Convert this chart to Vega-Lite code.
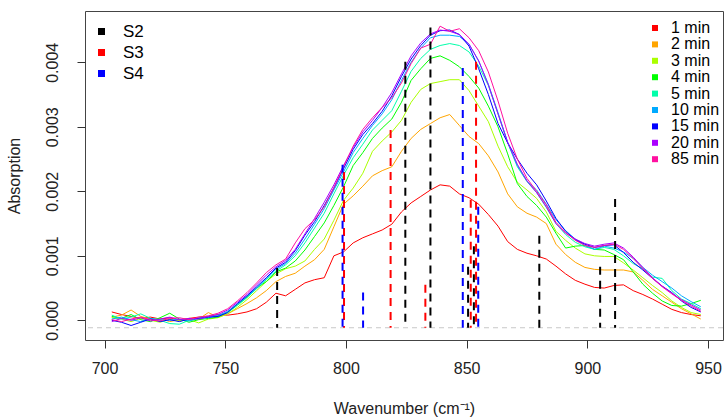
{
"$schema": "https://vega.github.io/schema/vega-lite/v6.json",
"width": 638, "height": 329,
"autosize": {"type": "none"},
"padding": {"left": 85, "top": 11, "right": 2, "bottom": 79},
"background": "white",
"datasets": {
"spectra": [
{"w":703,"t":"1 min","a":0.00013},{"w":707,"t":"1 min","a":0.00009},{"w":711,"t":"1 min","a":0.00006},{"w":715,"t":"1 min","a":0.00003},{"w":719,"t":"1 min","a":0.00005},{"w":723,"t":"1 min","a":0.00002},{"w":727,"t":"1 min","a":0.00004},{"w":731,"t":"1 min","a":0},{"w":735,"t":"1 min","a":0.00003},{"w":739,"t":"1 min","a":0.00005},{"w":743,"t":"1 min","a":0.00006},{"w":747,"t":"1 min","a":0.00009},{"w":751,"t":"1 min","a":0.00008},{"w":755,"t":"1 min","a":0.0001},{"w":759,"t":"1 min","a":0.00013},{"w":763,"t":"1 min","a":0.00018},{"w":767,"t":"1 min","a":0.00028},{"w":771,"t":"1 min","a":0.00042},{"w":775,"t":"1 min","a":0.00038},{"w":779,"t":"1 min","a":0.00048},{"w":783,"t":"1 min","a":0.00058},{"w":787,"t":"1 min","a":0.00063},{"w":791,"t":"1 min","a":0.00066},{"w":795,"t":"1 min","a":0.001},{"w":799,"t":"1 min","a":0.00106},{"w":803,"t":"1 min","a":0.0012},{"w":807,"t":"1 min","a":0.00128},{"w":811,"t":"1 min","a":0.00134},{"w":815,"t":"1 min","a":0.0014},{"w":819,"t":"1 min","a":0.00149},{"w":823,"t":"1 min","a":0.00168},{"w":827,"t":"1 min","a":0.00182},{"w":831,"t":"1 min","a":0.00192},{"w":835,"t":"1 min","a":0.00202},{"w":839,"t":"1 min","a":0.0021},{"w":843,"t":"1 min","a":0.00208},{"w":847,"t":"1 min","a":0.00196},{"w":851,"t":"1 min","a":0.0019},{"w":855,"t":"1 min","a":0.0018},{"w":859,"t":"1 min","a":0.00164},{"w":863,"t":"1 min","a":0.00146},{"w":867,"t":"1 min","a":0.00122},{"w":871,"t":"1 min","a":0.0011},{"w":875,"t":"1 min","a":0.00104},{"w":879,"t":"1 min","a":0.001},{"w":883,"t":"1 min","a":0.00095},{"w":887,"t":"1 min","a":0.00084},{"w":891,"t":"1 min","a":0.00072},{"w":895,"t":"1 min","a":0.00062},{"w":899,"t":"1 min","a":0.00056},{"w":903,"t":"1 min","a":0.00051},{"w":907,"t":"1 min","a":0.0005},{"w":911,"t":"1 min","a":0.00054},{"w":915,"t":"1 min","a":0.00055},{"w":919,"t":"1 min","a":0.00046},{"w":923,"t":"1 min","a":0.0004},{"w":927,"t":"1 min","a":0.00033},{"w":931,"t":"1 min","a":0.00025},{"w":935,"t":"1 min","a":0.00017},{"w":939,"t":"1 min","a":0.00012},{"w":943,"t":"1 min","a":0.00009},{"w":947,"t":"1 min","a":0.00007},
{"w":703,"t":"2 min","a":0.00005},{"w":707,"t":"2 min","a":0.00008},{"w":711,"t":"2 min","a":0.00016},{"w":715,"t":"2 min","a":0.00006},{"w":719,"t":"2 min","a":0.00002},{"w":723,"t":"2 min","a":0.00003},{"w":727,"t":"2 min","a":-0.00002},{"w":731,"t":"2 min","a":0.00001},{"w":735,"t":"2 min","a":0.00003},{"w":739,"t":"2 min","a":0.00002},{"w":743,"t":"2 min","a":0.00012},{"w":747,"t":"2 min","a":0.00005},{"w":751,"t":"2 min","a":0.0001},{"w":755,"t":"2 min","a":0.00018},{"w":759,"t":"2 min","a":0.00026},{"w":763,"t":"2 min","a":0.00035},{"w":767,"t":"2 min","a":0.00046},{"w":771,"t":"2 min","a":0.0006},{"w":775,"t":"2 min","a":0.00068},{"w":779,"t":"2 min","a":0.00073},{"w":783,"t":"2 min","a":0.00084},{"w":787,"t":"2 min","a":0.00094},{"w":791,"t":"2 min","a":0.0011},{"w":795,"t":"2 min","a":0.00145},{"w":799,"t":"2 min","a":0.0018},{"w":803,"t":"2 min","a":0.00193},{"w":807,"t":"2 min","a":0.00208},{"w":811,"t":"2 min","a":0.00224},{"w":815,"t":"2 min","a":0.00232},{"w":819,"t":"2 min","a":0.00238},{"w":823,"t":"2 min","a":0.00262},{"w":827,"t":"2 min","a":0.00282},{"w":831,"t":"2 min","a":0.00296},{"w":835,"t":"2 min","a":0.00305},{"w":839,"t":"2 min","a":0.00314},{"w":843,"t":"2 min","a":0.00319},{"w":847,"t":"2 min","a":0.00302},{"w":851,"t":"2 min","a":0.00285},{"w":855,"t":"2 min","a":0.00274},{"w":859,"t":"2 min","a":0.00255},{"w":863,"t":"2 min","a":0.0023},{"w":867,"t":"2 min","a":0.00196},{"w":871,"t":"2 min","a":0.00176},{"w":875,"t":"2 min","a":0.00166},{"w":879,"t":"2 min","a":0.0016},{"w":883,"t":"2 min","a":0.0015},{"w":887,"t":"2 min","a":0.00118},{"w":891,"t":"2 min","a":0.00102},{"w":895,"t":"2 min","a":0.0009},{"w":899,"t":"2 min","a":0.00082},{"w":903,"t":"2 min","a":0.00079},{"w":907,"t":"2 min","a":0.00078},{"w":911,"t":"2 min","a":0.00078},{"w":915,"t":"2 min","a":0.00078},{"w":919,"t":"2 min","a":0.00075},{"w":923,"t":"2 min","a":0.00062},{"w":927,"t":"2 min","a":0.00048},{"w":931,"t":"2 min","a":0.00038},{"w":935,"t":"2 min","a":0.00028},{"w":939,"t":"2 min","a":0.00018},{"w":943,"t":"2 min","a":0.0001},{"w":947,"t":"2 min","a":0.00002},
{"w":703,"t":"3 min","a":0.00004},{"w":707,"t":"3 min","a":0.00002},{"w":711,"t":"3 min","a":-0.00002},{"w":715,"t":"3 min","a":0.00003},{"w":719,"t":"3 min","a":0},{"w":723,"t":"3 min","a":-0.00003},{"w":727,"t":"3 min","a":0.00002},{"w":731,"t":"3 min","a":-0.00001},{"w":735,"t":"3 min","a":0.00001},{"w":739,"t":"3 min","a":-0.00004},{"w":743,"t":"3 min","a":0.00002},{"w":747,"t":"3 min","a":0.00004},{"w":751,"t":"3 min","a":0.0001},{"w":755,"t":"3 min","a":0.0002},{"w":759,"t":"3 min","a":0.00032},{"w":763,"t":"3 min","a":0.00046},{"w":767,"t":"3 min","a":0.0006},{"w":771,"t":"3 min","a":0.00072},{"w":775,"t":"3 min","a":0.0008},{"w":779,"t":"3 min","a":0.00084},{"w":783,"t":"3 min","a":0.00092},{"w":787,"t":"3 min","a":0.0011},{"w":791,"t":"3 min","a":0.00126},{"w":795,"t":"3 min","a":0.00155},{"w":799,"t":"3 min","a":0.00186},{"w":803,"t":"3 min","a":0.00205},{"w":807,"t":"3 min","a":0.00228},{"w":811,"t":"3 min","a":0.00262},{"w":815,"t":"3 min","a":0.00278},{"w":819,"t":"3 min","a":0.00292},{"w":823,"t":"3 min","a":0.0031},{"w":827,"t":"3 min","a":0.00338},{"w":831,"t":"3 min","a":0.00358},{"w":835,"t":"3 min","a":0.00367},{"w":839,"t":"3 min","a":0.0037},{"w":843,"t":"3 min","a":0.00373},{"w":847,"t":"3 min","a":0.00373},{"w":851,"t":"3 min","a":0.00356},{"w":855,"t":"3 min","a":0.00332},{"w":859,"t":"3 min","a":0.00308},{"w":863,"t":"3 min","a":0.0027},{"w":867,"t":"3 min","a":0.00238},{"w":871,"t":"3 min","a":0.00214},{"w":875,"t":"3 min","a":0.00202},{"w":879,"t":"3 min","a":0.00189},{"w":883,"t":"3 min","a":0.00168},{"w":887,"t":"3 min","a":0.00138},{"w":891,"t":"3 min","a":0.00124},{"w":895,"t":"3 min","a":0.00112},{"w":899,"t":"3 min","a":0.00103},{"w":903,"t":"3 min","a":0.001},{"w":907,"t":"3 min","a":0.00099},{"w":911,"t":"3 min","a":0.00099},{"w":915,"t":"3 min","a":0.00089},{"w":919,"t":"3 min","a":0.00078},{"w":923,"t":"3 min","a":0.00066},{"w":927,"t":"3 min","a":0.00054},{"w":931,"t":"3 min","a":0.00043},{"w":935,"t":"3 min","a":0.0003},{"w":939,"t":"3 min","a":0.0002},{"w":943,"t":"3 min","a":0.00012},{"w":947,"t":"3 min","a":0.00009},
{"w":703,"t":"4 min","a":0.00006},{"w":707,"t":"4 min","a":0.00003},{"w":711,"t":"4 min","a":0.00009},{"w":715,"t":"4 min","a":0.00001},{"w":719,"t":"4 min","a":-0.00002},{"w":723,"t":"4 min","a":0.00004},{"w":727,"t":"4 min","a":0.00011},{"w":731,"t":"4 min","a":0.00002},{"w":735,"t":"4 min","a":-0.00003},{"w":739,"t":"4 min","a":0.00001},{"w":743,"t":"4 min","a":0.00003},{"w":747,"t":"4 min","a":0.00005},{"w":751,"t":"4 min","a":0.00013},{"w":755,"t":"4 min","a":0.00024},{"w":759,"t":"4 min","a":0.00036},{"w":763,"t":"4 min","a":0.0005},{"w":767,"t":"4 min","a":0.0006},{"w":771,"t":"4 min","a":0.00075},{"w":775,"t":"4 min","a":0.00081},{"w":779,"t":"4 min","a":0.00092},{"w":783,"t":"4 min","a":0.00109},{"w":787,"t":"4 min","a":0.0013},{"w":791,"t":"4 min","a":0.00151},{"w":795,"t":"4 min","a":0.00178},{"w":799,"t":"4 min","a":0.00207},{"w":803,"t":"4 min","a":0.0024},{"w":807,"t":"4 min","a":0.0026},{"w":811,"t":"4 min","a":0.00282},{"w":815,"t":"4 min","a":0.00298},{"w":819,"t":"4 min","a":0.00312},{"w":823,"t":"4 min","a":0.00338},{"w":827,"t":"4 min","a":0.00372},{"w":831,"t":"4 min","a":0.0039},{"w":835,"t":"4 min","a":0.00406},{"w":839,"t":"4 min","a":0.0041},{"w":843,"t":"4 min","a":0.00403},{"w":847,"t":"4 min","a":0.00393},{"w":851,"t":"4 min","a":0.00378},{"w":855,"t":"4 min","a":0.0036},{"w":859,"t":"4 min","a":0.00332},{"w":863,"t":"4 min","a":0.003},{"w":867,"t":"4 min","a":0.00258},{"w":871,"t":"4 min","a":0.00212},{"w":875,"t":"4 min","a":0.00192},{"w":879,"t":"4 min","a":0.00178},{"w":883,"t":"4 min","a":0.0016},{"w":887,"t":"4 min","a":0.00135},{"w":891,"t":"4 min","a":0.00112},{"w":895,"t":"4 min","a":0.00115},{"w":899,"t":"4 min","a":0.00116},{"w":903,"t":"4 min","a":0.0011},{"w":907,"t":"4 min","a":0.00109},{"w":911,"t":"4 min","a":0.00102},{"w":915,"t":"4 min","a":0.00094},{"w":919,"t":"4 min","a":0.00075},{"w":923,"t":"4 min","a":0.00056},{"w":927,"t":"4 min","a":0.00042},{"w":931,"t":"4 min","a":0.0003},{"w":935,"t":"4 min","a":0.00023},{"w":939,"t":"4 min","a":0.00022},{"w":943,"t":"4 min","a":0.00026},{"w":947,"t":"4 min","a":0.00031},
{"w":703,"t":"5 min","a":0.00008},{"w":707,"t":"5 min","a":0.00002},{"w":711,"t":"5 min","a":0.00005},{"w":715,"t":"5 min","a":0.0001},{"w":719,"t":"5 min","a":0.00003},{"w":723,"t":"5 min","a":0},{"w":727,"t":"5 min","a":-0.00005},{"w":731,"t":"5 min","a":-0.00006},{"w":735,"t":"5 min","a":0},{"w":739,"t":"5 min","a":0.00004},{"w":743,"t":"5 min","a":0.00006},{"w":747,"t":"5 min","a":0.00008},{"w":751,"t":"5 min","a":0.00012},{"w":755,"t":"5 min","a":0.00023},{"w":759,"t":"5 min","a":0.00035},{"w":763,"t":"5 min","a":0.00049},{"w":767,"t":"5 min","a":0.00063},{"w":771,"t":"5 min","a":0.00076},{"w":775,"t":"5 min","a":0.00086},{"w":779,"t":"5 min","a":0.001},{"w":783,"t":"5 min","a":0.0012},{"w":787,"t":"5 min","a":0.00143},{"w":791,"t":"5 min","a":0.00166},{"w":795,"t":"5 min","a":0.00196},{"w":799,"t":"5 min","a":0.00225},{"w":803,"t":"5 min","a":0.00252},{"w":807,"t":"5 min","a":0.00273},{"w":811,"t":"5 min","a":0.00295},{"w":815,"t":"5 min","a":0.0031},{"w":819,"t":"5 min","a":0.00325},{"w":823,"t":"5 min","a":0.00355},{"w":827,"t":"5 min","a":0.00386},{"w":831,"t":"5 min","a":0.00406},{"w":835,"t":"5 min","a":0.0042},{"w":839,"t":"5 min","a":0.00426},{"w":843,"t":"5 min","a":0.00429},{"w":847,"t":"5 min","a":0.00426},{"w":851,"t":"5 min","a":0.00416},{"w":855,"t":"5 min","a":0.00394},{"w":859,"t":"5 min","a":0.00364},{"w":863,"t":"5 min","a":0.0032},{"w":867,"t":"5 min","a":0.00275},{"w":871,"t":"5 min","a":0.00238},{"w":875,"t":"5 min","a":0.00215},{"w":879,"t":"5 min","a":0.00198},{"w":883,"t":"5 min","a":0.00175},{"w":887,"t":"5 min","a":0.0015},{"w":891,"t":"5 min","a":0.00133},{"w":895,"t":"5 min","a":0.00121},{"w":899,"t":"5 min","a":0.00114},{"w":903,"t":"5 min","a":0.0011},{"w":907,"t":"5 min","a":0.00113},{"w":911,"t":"5 min","a":0.0011},{"w":915,"t":"5 min","a":0.001},{"w":919,"t":"5 min","a":0.00088},{"w":923,"t":"5 min","a":0.0008},{"w":927,"t":"5 min","a":0.00067},{"w":931,"t":"5 min","a":0.00065},{"w":935,"t":"5 min","a":0.00046},{"w":939,"t":"5 min","a":0.00033},{"w":943,"t":"5 min","a":0.00026},{"w":947,"t":"5 min","a":0.00018},
{"w":703,"t":"10 min","a":0.00002},{"w":707,"t":"10 min","a":0.00005},{"w":711,"t":"10 min","a":0.00001},{"w":715,"t":"10 min","a":-0.00002},{"w":719,"t":"10 min","a":0.00003},{"w":723,"t":"10 min","a":0.00001},{"w":727,"t":"10 min","a":0},{"w":731,"t":"10 min","a":0.00002},{"w":735,"t":"10 min","a":-0.00001},{"w":739,"t":"10 min","a":0.00003},{"w":743,"t":"10 min","a":0.00004},{"w":747,"t":"10 min","a":0.00007},{"w":751,"t":"10 min","a":0.00014},{"w":755,"t":"10 min","a":0.00025},{"w":759,"t":"10 min","a":0.00037},{"w":763,"t":"10 min","a":0.0005},{"w":767,"t":"10 min","a":0.00065},{"w":771,"t":"10 min","a":0.00079},{"w":775,"t":"10 min","a":0.00088},{"w":779,"t":"10 min","a":0.00104},{"w":783,"t":"10 min","a":0.00126},{"w":787,"t":"10 min","a":0.00149},{"w":791,"t":"10 min","a":0.00173},{"w":795,"t":"10 min","a":0.00202},{"w":799,"t":"10 min","a":0.0023},{"w":803,"t":"10 min","a":0.0026},{"w":807,"t":"10 min","a":0.00282},{"w":811,"t":"10 min","a":0.00302},{"w":815,"t":"10 min","a":0.0032},{"w":819,"t":"10 min","a":0.00342},{"w":823,"t":"10 min","a":0.00372},{"w":827,"t":"10 min","a":0.004},{"w":831,"t":"10 min","a":0.00422},{"w":835,"t":"10 min","a":0.00438},{"w":839,"t":"10 min","a":0.00442},{"w":843,"t":"10 min","a":0.00442},{"w":847,"t":"10 min","a":0.0044},{"w":851,"t":"10 min","a":0.00428},{"w":855,"t":"10 min","a":0.00402},{"w":859,"t":"10 min","a":0.00366},{"w":863,"t":"10 min","a":0.00322},{"w":867,"t":"10 min","a":0.00276},{"w":871,"t":"10 min","a":0.0024},{"w":875,"t":"10 min","a":0.00216},{"w":879,"t":"10 min","a":0.00202},{"w":883,"t":"10 min","a":0.0018},{"w":887,"t":"10 min","a":0.00156},{"w":891,"t":"10 min","a":0.00139},{"w":895,"t":"10 min","a":0.00126},{"w":899,"t":"10 min","a":0.00116},{"w":903,"t":"10 min","a":0.0011},{"w":907,"t":"10 min","a":0.00115},{"w":911,"t":"10 min","a":0.00112},{"w":915,"t":"10 min","a":0.00106},{"w":919,"t":"10 min","a":0.00096},{"w":923,"t":"10 min","a":0.00082},{"w":927,"t":"10 min","a":0.0007},{"w":931,"t":"10 min","a":0.0006},{"w":935,"t":"10 min","a":0.0005},{"w":939,"t":"10 min","a":0.00038},{"w":943,"t":"10 min","a":0.00029},{"w":947,"t":"10 min","a":0.00021},
{"w":703,"t":"15 min","a":0},{"w":707,"t":"15 min","a":-0.00003},{"w":711,"t":"15 min","a":-0.00008},{"w":715,"t":"15 min","a":-0.00003},{"w":719,"t":"15 min","a":0.00002},{"w":723,"t":"15 min","a":-0.00002},{"w":727,"t":"15 min","a":0.00001},{"w":731,"t":"15 min","a":-0.00002},{"w":735,"t":"15 min","a":0.00002},{"w":739,"t":"15 min","a":0.00003},{"w":743,"t":"15 min","a":0.00005},{"w":747,"t":"15 min","a":0.00006},{"w":751,"t":"15 min","a":0.00012},{"w":755,"t":"15 min","a":0.00026},{"w":759,"t":"15 min","a":0.00038},{"w":763,"t":"15 min","a":0.00052},{"w":767,"t":"15 min","a":0.00066},{"w":771,"t":"15 min","a":0.00081},{"w":775,"t":"15 min","a":0.0009},{"w":779,"t":"15 min","a":0.00108},{"w":783,"t":"15 min","a":0.00132},{"w":787,"t":"15 min","a":0.00153},{"w":791,"t":"15 min","a":0.00178},{"w":795,"t":"15 min","a":0.00205},{"w":799,"t":"15 min","a":0.00235},{"w":803,"t":"15 min","a":0.00265},{"w":807,"t":"15 min","a":0.00288},{"w":811,"t":"15 min","a":0.00305},{"w":815,"t":"15 min","a":0.00324},{"w":819,"t":"15 min","a":0.00348},{"w":823,"t":"15 min","a":0.00378},{"w":827,"t":"15 min","a":0.00405},{"w":831,"t":"15 min","a":0.00426},{"w":835,"t":"15 min","a":0.00442},{"w":839,"t":"15 min","a":0.00449},{"w":843,"t":"15 min","a":0.0045},{"w":847,"t":"15 min","a":0.00443},{"w":851,"t":"15 min","a":0.00425},{"w":855,"t":"15 min","a":0.0039},{"w":859,"t":"15 min","a":0.0035},{"w":863,"t":"15 min","a":0.00305},{"w":867,"t":"15 min","a":0.00275},{"w":871,"t":"15 min","a":0.0025},{"w":875,"t":"15 min","a":0.00228},{"w":879,"t":"15 min","a":0.0021},{"w":883,"t":"15 min","a":0.00185},{"w":887,"t":"15 min","a":0.00158},{"w":891,"t":"15 min","a":0.00138},{"w":895,"t":"15 min","a":0.00125},{"w":899,"t":"15 min","a":0.00118},{"w":903,"t":"15 min","a":0.00113},{"w":907,"t":"15 min","a":0.00116},{"w":911,"t":"15 min","a":0.00117},{"w":915,"t":"15 min","a":0.00105},{"w":919,"t":"15 min","a":0.0009},{"w":923,"t":"15 min","a":0.00078},{"w":927,"t":"15 min","a":0.00065},{"w":931,"t":"15 min","a":0.00053},{"w":935,"t":"15 min","a":0.00043},{"w":939,"t":"15 min","a":0.0003},{"w":943,"t":"15 min","a":0.0002},{"w":947,"t":"15 min","a":0.00013},
{"w":703,"t":"20 min","a":-0.00002},{"w":707,"t":"20 min","a":0.00003},{"w":711,"t":"20 min","a":0},{"w":715,"t":"20 min","a":0.00004},{"w":719,"t":"20 min","a":-0.00001},{"w":723,"t":"20 min","a":0.00002},{"w":727,"t":"20 min","a":0.00005},{"w":731,"t":"20 min","a":0.00001},{"w":735,"t":"20 min","a":0.00003},{"w":739,"t":"20 min","a":0.00002},{"w":743,"t":"20 min","a":0.00006},{"w":747,"t":"20 min","a":0.00009},{"w":751,"t":"20 min","a":0.00016},{"w":755,"t":"20 min","a":0.00028},{"w":759,"t":"20 min","a":0.0004},{"w":763,"t":"20 min","a":0.00055},{"w":767,"t":"20 min","a":0.0007},{"w":771,"t":"20 min","a":0.00083},{"w":775,"t":"20 min","a":0.00093},{"w":779,"t":"20 min","a":0.0011},{"w":783,"t":"20 min","a":0.00134},{"w":787,"t":"20 min","a":0.00158},{"w":791,"t":"20 min","a":0.00183},{"w":795,"t":"20 min","a":0.0021},{"w":799,"t":"20 min","a":0.0024},{"w":803,"t":"20 min","a":0.00268},{"w":807,"t":"20 min","a":0.00292},{"w":811,"t":"20 min","a":0.0031},{"w":815,"t":"20 min","a":0.0033},{"w":819,"t":"20 min","a":0.00353},{"w":823,"t":"20 min","a":0.00382},{"w":827,"t":"20 min","a":0.0041},{"w":831,"t":"20 min","a":0.0043},{"w":835,"t":"20 min","a":0.00444},{"w":839,"t":"20 min","a":0.0045},{"w":843,"t":"20 min","a":0.00448},{"w":847,"t":"20 min","a":0.00443},{"w":851,"t":"20 min","a":0.00428},{"w":855,"t":"20 min","a":0.00402},{"w":859,"t":"20 min","a":0.00365},{"w":863,"t":"20 min","a":0.0032},{"w":867,"t":"20 min","a":0.00276},{"w":871,"t":"20 min","a":0.00242},{"w":875,"t":"20 min","a":0.00216},{"w":879,"t":"20 min","a":0.00198},{"w":883,"t":"20 min","a":0.00176},{"w":887,"t":"20 min","a":0.0015},{"w":891,"t":"20 min","a":0.00135},{"w":895,"t":"20 min","a":0.00126},{"w":899,"t":"20 min","a":0.00119},{"w":903,"t":"20 min","a":0.00115},{"w":907,"t":"20 min","a":0.00118},{"w":911,"t":"20 min","a":0.0012},{"w":915,"t":"20 min","a":0.00112},{"w":919,"t":"20 min","a":0.00098},{"w":923,"t":"20 min","a":0.00082},{"w":927,"t":"20 min","a":0.00066},{"w":931,"t":"20 min","a":0.00053},{"w":935,"t":"20 min","a":0.00042},{"w":939,"t":"20 min","a":0.00032},{"w":943,"t":"20 min","a":0.00024},{"w":947,"t":"20 min","a":0.00016},
{"w":703,"t":"85 min","a":0.00001},{"w":707,"t":"85 min","a":-0.00002},{"w":711,"t":"85 min","a":0.00002},{"w":715,"t":"85 min","a":0.00005},{"w":719,"t":"85 min","a":0.00001},{"w":723,"t":"85 min","a":-0.00001},{"w":727,"t":"85 min","a":0.00003},{"w":731,"t":"85 min","a":0.00004},{"w":735,"t":"85 min","a":0.00001},{"w":739,"t":"85 min","a":0.00005},{"w":743,"t":"85 min","a":0.00007},{"w":747,"t":"85 min","a":0.00011},{"w":751,"t":"85 min","a":0.00018},{"w":755,"t":"85 min","a":0.0003},{"w":759,"t":"85 min","a":0.00043},{"w":763,"t":"85 min","a":0.00058},{"w":767,"t":"85 min","a":0.00074},{"w":771,"t":"85 min","a":0.00086},{"w":775,"t":"85 min","a":0.00095},{"w":779,"t":"85 min","a":0.0012},{"w":783,"t":"85 min","a":0.00142},{"w":787,"t":"85 min","a":0.00156},{"w":791,"t":"85 min","a":0.00176},{"w":795,"t":"85 min","a":0.00206},{"w":799,"t":"85 min","a":0.00238},{"w":803,"t":"85 min","a":0.0027},{"w":807,"t":"85 min","a":0.00296},{"w":811,"t":"85 min","a":0.00314},{"w":815,"t":"85 min","a":0.0033},{"w":819,"t":"85 min","a":0.00345},{"w":823,"t":"85 min","a":0.00368},{"w":827,"t":"85 min","a":0.00398},{"w":831,"t":"85 min","a":0.00422},{"w":835,"t":"85 min","a":0.00428},{"w":839,"t":"85 min","a":0.00456},{"w":843,"t":"85 min","a":0.00448},{"w":847,"t":"85 min","a":0.00452},{"w":851,"t":"85 min","a":0.00438},{"w":855,"t":"85 min","a":0.00418},{"w":859,"t":"85 min","a":0.00385},{"w":863,"t":"85 min","a":0.0034},{"w":867,"t":"85 min","a":0.0029},{"w":871,"t":"85 min","a":0.0025},{"w":875,"t":"85 min","a":0.0022},{"w":879,"t":"85 min","a":0.002},{"w":883,"t":"85 min","a":0.00179},{"w":887,"t":"85 min","a":0.00152},{"w":891,"t":"85 min","a":0.00136},{"w":895,"t":"85 min","a":0.00124},{"w":899,"t":"85 min","a":0.00116},{"w":903,"t":"85 min","a":0.00113},{"w":907,"t":"85 min","a":0.00116},{"w":911,"t":"85 min","a":0.00118},{"w":915,"t":"85 min","a":0.0011},{"w":919,"t":"85 min","a":0.00096},{"w":923,"t":"85 min","a":0.0008},{"w":927,"t":"85 min","a":0.00065},{"w":931,"t":"85 min","a":0.00052},{"w":935,"t":"85 min","a":0.00041},{"w":939,"t":"85 min","a":0.00031},{"w":943,"t":"85 min","a":0.00022},{"w":947,"t":"85 min","a":0.00014}
],
"sticks": [
{"w":771.5,"s":"S2","a":0.00081},{"w":824.6,"s":"S2","a":0.00401},{"w":835.0,"s":"S2","a":0.00454},{"w":850.6,"s":"S2","a":0.00083},{"w":853.0,"s":"S2","a":0.00115},{"w":880.1,"s":"S2","a":0.00131},{"w":905.3,"s":"S2","a":0.00083},{"w":911.5,"s":"S2","a":0.00188},
{"w":799.2,"s":"S3","a":0.0023},{"w":818.5,"s":"S3","a":0.00295},{"w":832.9,"s":"S3","a":0.00055},{"w":851.7,"s":"S3","a":0.00187},{"w":853.9,"s":"S3","a":0.00401},
{"w":798.6,"s":"S4","a":0.00241},{"w":807.1,"s":"S4","a":0.00043},{"w":848.4,"s":"S4","a":0.00391},{"w":854.8,"s":"S4","a":0.00176}
]
},
"layer": [
{
"data": {"values": [{}]},
"mark": {"type": "rule", "color": "#c8c8c8", "strokeWidth": 1, "strokeDash": [5, 4]},
"encoding": {
"y": {"datum": -0.000115, "type": "quantitative", "scale": {"domain": [-0.000305, 0.004795], "nice": false, "zero": false}}
}
},
{
"data": {"name": "spectra"},
"mark": {"type": "line", "strokeWidth": 1},
"encoding": {
"x": {"field": "w", "type": "quantitative", "scale": {"domain": [691.9, 956.2], "nice": false, "zero": false},
"axis": {"values": [700, 750, 800, 850, 900, 950], "title": "Wavenumber (cm⁻¹)", "labelPadding": 12, "titlePadding": 24}},
"y": {"field": "a", "type": "quantitative", "scale": {"domain": [-0.000305, 0.004795], "nice": false, "zero": false},
"axis": {"values": [0, 0.001, 0.002, 0.003, 0.004], "format": ".3f", "title": "Absorption", "labelAngle": -90, "labelAlign": "center", "labelBaseline": "bottom", "labelPadding": 17, "titlePadding": 22}},
"stroke": {"field": "t", "type": "nominal", "legend": null,
"scale": {"domain": ["1 min","2 min","3 min","4 min","5 min","10 min","15 min","20 min","85 min"],
"range": ["#ff0000","#ffa500","#aaff00","#00ff00","#00ffaa","#00aaff","#0000ff","#aa00ff","#ff10a0"]}},
"detail": {"field": "t"}
}
},
{
"data": {"name": "sticks"},
"mark": {"type": "rule", "strokeWidth": 2, "strokeDash": [8, 6]},
"encoding": {
"x": {"field": "w", "type": "quantitative"},
"y": {"field": "a", "type": "quantitative"},
"y2": {"datum": -0.000115},
"stroke": {"field": "s", "type": "nominal", "legend": null,
"scale": {"domain": ["S2","S3","S4"], "range": ["#000000","#ff0000","#0000ff"]}}
}
},
{
"data": {"name": "spectra"},
"mark": {"type": "point", "shape": "square", "filled": true, "opacity": 0.001},
"encoding": {
"x": {"field": "w", "type": "quantitative"},
"y": {"field": "a", "type": "quantitative"},
"color": {"field": "t", "type": "nominal",
"scale": {"domain": ["1 min","2 min","3 min","4 min","5 min","10 min","15 min","20 min","85 min"],
"range": ["#ff0000","#ffa500","#aaff00","#00ff00","#00ffaa","#00aaff","#0000ff","#aa00ff","#ff10a0"]},
"legend": {"title": null, "orient": "none", "legendX": 562, "legendY": 9, "symbolType": "square", "symbolSize": 36, "symbolOpacity": 1, "symbolStrokeWidth": 0, "labelFontSize": 16, "labelOffset": 8, "rowPadding": 0.4, "labelFont": "Liberation Sans", "labelColor": "#000000"}}
}
},
{
"data": {"name": "sticks"},
"mark": {"type": "point", "shape": "square", "filled": true, "opacity": 0},
"encoding": {
"x": {"field": "w", "type": "quantitative"},
"y": {"field": "a", "type": "quantitative"},
"fill": {"field": "s", "type": "nominal",
"scale": {"domain": ["S2","S3","S4"], "range": ["#000000","#ff0000","#0000ff"]},
"legend": {"title": null, "orient": "none", "legendX": 8, "legendY": 12, "symbolType": "square", "symbolSize": 49, "symbolOpacity": 1, "symbolStrokeWidth": 0, "labelFontSize": 17, "labelOffset": 13, "rowPadding": 3, "labelFont": "Liberation Sans", "labelColor": "#000000"}}
}
}
],
"resolve": {"scale": {"stroke": "independent"}},
"config": {
"font": "Liberation Sans",
"view": {"stroke": "#444444", "strokeWidth": 1},
"axis": {"grid": false, "domain": false, "tickSize": 8, "tickColor": "#333333", "tickWidth": 1,
"labelFont": "Liberation Sans", "labelFontSize": 16, "labelColor": "#222222",
"titleFont": "Liberation Sans", "titleFontSize": 16, "titleFontWeight": "normal", "titleColor": "#222222"}
}
}
